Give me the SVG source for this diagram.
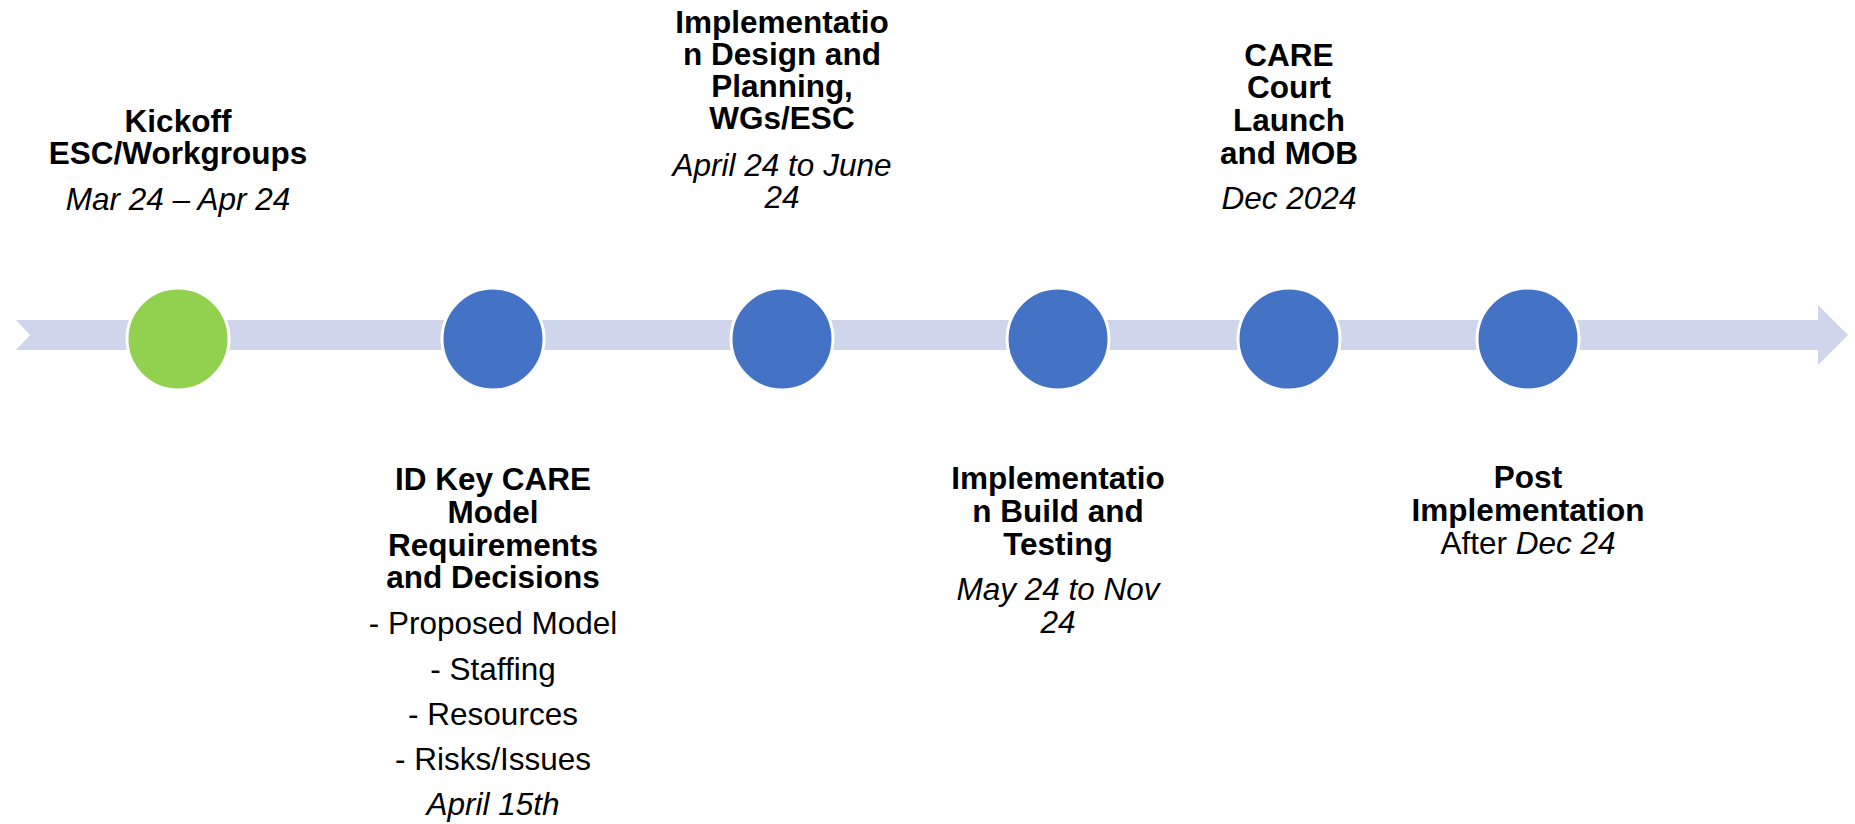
<svg xmlns="http://www.w3.org/2000/svg" width="1855" height="824" viewBox="0 0 1855 824">
<style>
.t{font-family:"Liberation Sans",Arial,sans-serif;font-size:31.5px;fill:#000;text-anchor:middle}
.b{font-weight:bold}
.i{font-style:italic}
.dot{stroke:#fff;stroke-width:3}
.green{fill:#92D050}
.blue{fill:#4472C4}
</style>
<rect width="1855" height="824" fill="#fff"/>
<g id="connectors">
<path d="M16,320 L1818,320 L1818,305 L1848,335 L1818,365 L1818,350 L16,350 L30,335 Z" fill="#CFD5EA"/>
</g>
<g id="node1">
<circle class="dot green" cx="178" cy="339" r="51"/>
<text class="t b" x="178" y="132">Kickoff</text>
<text class="t b" x="178" y="164">ESC/Workgroups</text>
<text class="t i" x="178" y="210">Mar 24 – Apr 24</text>
</g>
<g id="node2">
<circle class="dot blue" cx="493" cy="339" r="51"/>
<text class="t b" x="493" y="490">ID Key CARE</text>
<text class="t b" x="493" y="523">Model</text>
<text class="t b" x="493" y="556">Requirements</text>
<text class="t b" x="493" y="588">and Decisions</text>
<text class="t" x="493" y="634">- Proposed Model</text>
<text class="t" x="493" y="680">- Staffing</text>
<text class="t" x="493" y="725">- Resources</text>
<text class="t" x="493" y="770">- Risks/Issues</text>
<text class="t i" x="493" y="815">April 15th</text>
</g>
<g id="node3">
<circle class="dot blue" cx="782" cy="339" r="51"/>
<text class="t b" x="782" y="33">Implementatio</text>
<text class="t b" x="782" y="65">n Design and</text>
<text class="t b" x="782" y="97">Planning,</text>
<text class="t b" x="782" y="129">WGs/ESC</text>
<text class="t i" x="782" y="176">April 24 to June</text>
<text class="t i" x="782" y="208">24</text>
</g>
<g id="node4">
<circle class="dot blue" cx="1058" cy="339" r="51"/>
<text class="t b" x="1058" y="489">Implementatio</text>
<text class="t b" x="1058" y="522">n Build and</text>
<text class="t b" x="1058" y="555">Testing</text>
<text class="t i" x="1058" y="600">May 24 to Nov</text>
<text class="t i" x="1058" y="633">24</text>
</g>
<g id="node5">
<circle class="dot blue" cx="1289" cy="339" r="51"/>
<text class="t b" x="1289" y="66">CARE</text>
<text class="t b" x="1289" y="98">Court</text>
<text class="t b" x="1289" y="131">Launch</text>
<text class="t b" x="1289" y="164">and MOB</text>
<text class="t i" x="1289" y="209">Dec 2024</text>
</g>
<g id="node6">
<circle class="dot blue" cx="1528" cy="339" r="51"/>
<text class="t b" x="1528" y="488">Post</text>
<text class="t b" x="1528" y="521">Implementation</text>
<text class="t" x="1528" y="554">After <tspan class="i">Dec 24</tspan></text>
</g>
</svg>
